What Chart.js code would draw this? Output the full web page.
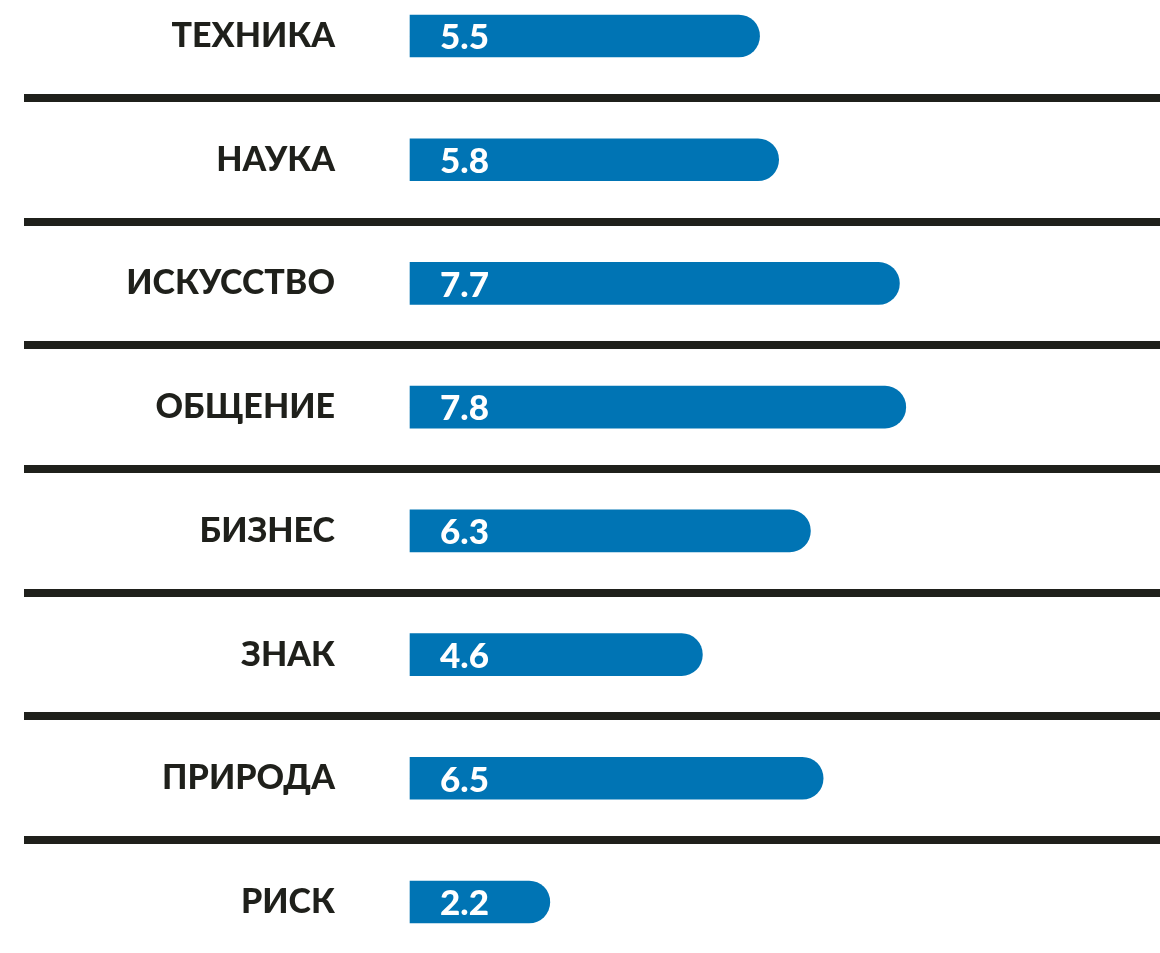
<!DOCTYPE html>
<html>
<head>
<meta charset="utf-8">
<script src="https://cdn.jsdelivr.net/npm/chart.js@4"></script>
<style>
  body { margin: 0; background: #fff; }
  #wrap { width: 1160px; height: 953px; }
</style>
</head>
<body>
<div id="wrap"><canvas id="grafico"></canvas></div>
<script>
const categorias = ['ТЕХНИКА', 'НАУКА', 'ИСКУССТВО', 'ОБЩЕНИЕ', 'БИЗНЕС', 'ЗНАК', 'ПРИРОДА', 'РИСК'];
const valores = [5.5, 5.8, 7.7, 7.8, 6.3, 4.6, 6.5, 2.2];

const azul = '#0074b4';
const escuro = '#1f201b';

// linhas separadoras entre as categorias + valores dentro das barras
const extras = {
  id: 'extras',
  afterDatasetsDraw(chart) {
    const ctx = chart.ctx;
    const y = chart.scales.y;
    ctx.save();
    ctx.fillStyle = escuro;
    for (let i = 0; i < categorias.length - 1; i++) {
      const meio = (y.getPixelForValue(i) + y.getPixelForValue(i + 1)) / 2;
      ctx.fillRect(24, Math.round(meio) - 4, chart.width - 24, 8);
    }
    const meta = chart.getDatasetMeta(0);
    ctx.fillStyle = '#fff';
    ctx.font = '900 35px Lato, "DejaVu Sans", sans-serif';
    ctx.textAlign = 'left';
    ctx.textBaseline = 'middle';
    meta.data.forEach((barra, i) => {
      ctx.fillText(valores[i].toFixed(1), barra.base + 30, barra.y + 2);
    });
    ctx.restore();
  }
};

new Chart(document.getElementById('grafico'), {
  type: 'bar',
  data: {
    labels: categorias,
    datasets: [{
      data: valores,
      backgroundColor: azul,
      borderWidth: 0,
      borderRadius: 21,
      borderSkipped: 'start',
      barThickness: 42,
      clip: false
    }]
  },
  options: {
    indexAxis: 'y',
    responsive: true,
    maintainAspectRatio: false,
    animation: false,
    layout: { padding: { top: 36, bottom: 51, left: 0, right: 0 } },
    plugins: {
      legend: { display: false },
      tooltip: { enabled: false }
    },
    scales: {
      x: { display: false, min: 0, max: 11.8 },
      y: {
        offset: false,
        grid: { display: true, color: 'rgba(0,0,0,0)', drawOnChartArea: false, drawTicks: true, tickLength: 75 },
        border: { display: false },
        afterFit(scale) { scale.width = 410; },
        ticks: {
          padding: 0,
          color: escuro,
          font: { family: 'Lato, "DejaVu Sans", sans-serif', size: 34, weight: '900' }
        }
      }
    }
  },
  plugins: [extras]
});
</script>
</body>
</html>
